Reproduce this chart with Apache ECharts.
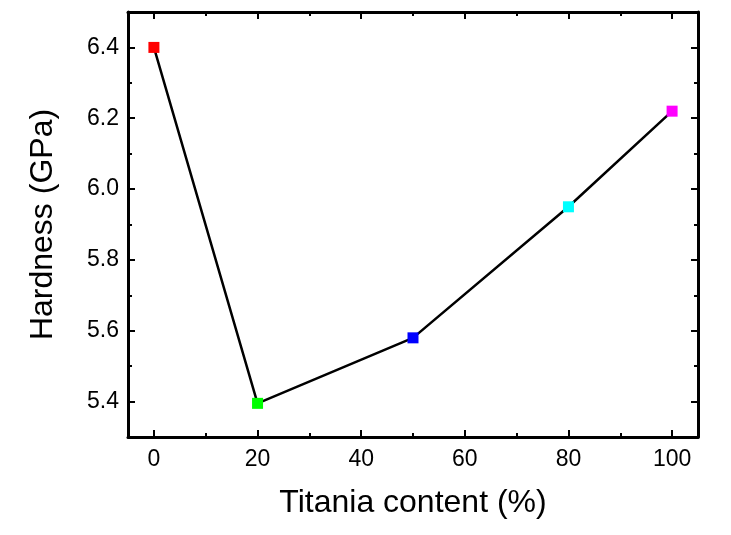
<!DOCTYPE html>
<html>
<head>
<meta charset="utf-8">
<script src="https://cdn.jsdelivr.net/npm/echarts@6/dist/echarts.min.js"></script>
<style>html,body{margin:0;padding:0;background:#fff}#c{width:731px;height:535px}</style>
</head>
<body>
<div id="c"></div>
<script>
var titania = [0, 20, 50, 80, 100];
var hardness = [6.40, 5.395, 5.58, 5.95, 6.22];
var markerColors = ['#ff0000', '#00ff00', '#0000ff', '#00ffff', '#ff00ff'];
var xMajorTicks = [0, 20, 40, 60, 80, 100];
var xMinorTicks = [10, 30, 50, 70, 90];
var yMajorTicks = [5.4, 5.6, 5.8, 6.0, 6.2, 6.4];
var yMinorTicks = [5.5, 5.7, 5.9, 6.1, 6.3];
var xTitle = 'Titania content (%)';
var yTitle = 'Hardness (GPa)';

var FONT = 'Liberation Sans, Arial, sans-serif';
var chart = echarts.init(document.getElementById('c'), null, {renderer: 'canvas'});

function xAx(pos, ticks, len, showLine, showLabel, extra) {
  var a = {
    type: 'value', gridIndex: 0, position: pos, min: -5, max: 105,
    axisLine: {show: showLine, onZero: false, lineStyle: {color: '#000', width: 3}},
    axisTick: {show: true, inside: true, length: len, customValues: ticks, lineStyle: {color: '#000', width: 2}},
    axisLabel: {show: showLabel, customValues: ticks, fontSize: 23, color: '#000', fontFamily: FONT, margin: 11,
      formatter: function (v) { return String(Math.round(v)); }},
    splitLine: {show: false}
  };
  return Object.assign(a, extra || {});
}
function yAx(pos, ticks, len, showLine, showLabel, extra) {
  var a = {
    type: 'value', gridIndex: 0, position: pos, min: 5.3, max: 6.5,
    axisLine: {show: showLine, onZero: false, lineStyle: {color: '#000', width: 3}},
    axisTick: {show: true, inside: true, length: len, customValues: ticks, lineStyle: {color: '#000', width: 2}},
    axisLabel: {show: showLabel, customValues: ticks, fontSize: 23, color: '#000', fontFamily: FONT, margin: 9,
      formatter: function (v) { return v.toFixed(1); }},
    splitLine: {show: false}
  };
  return Object.assign(a, extra || {});
}

var option = {
  backgroundColor: '#fff',
  animation: false,
  grid: {left: 128, right: 33, top: 12, bottom: 98, containLabel: false},
  xAxis: [
    xAx('bottom', xMajorTicks, 7, true, true, {
      name: xTitle, nameLocation: 'middle', nameGap: 50,
      nameTextStyle: {fontSize: 32, color: '#000', fontFamily: FONT}
    }),
    xAx('bottom', xMinorTicks, 4, false, false),
    xAx('top', xMajorTicks, 7, true, false),
    xAx('top', xMinorTicks, 4, false, false)
  ],
  yAxis: [
    yAx('left', yMajorTicks, 7, true, true, {
      name: yTitle, nameLocation: 'middle', nameGap: 69,
      nameTextStyle: {fontSize: 32, color: '#000', fontFamily: FONT}
    }),
    yAx('left', yMinorTicks, 4, false, false),
    yAx('right', yMajorTicks, 7, true, false),
    yAx('right', yMinorTicks, 4, false, false)
  ],
  series: [{
    type: 'line',
    xAxisIndex: 0, yAxisIndex: 0,
    symbol: 'rect', symbolSize: 11,
    lineStyle: {color: '#000', width: 2.5},
    data: titania.map(function (x, i) {
      return {value: [x, hardness[i]], itemStyle: {color: markerColors[i], borderWidth: 0}};
    }),
    z: 5
  }]
};
chart.setOption(option);
</script>
</body>
</html>
